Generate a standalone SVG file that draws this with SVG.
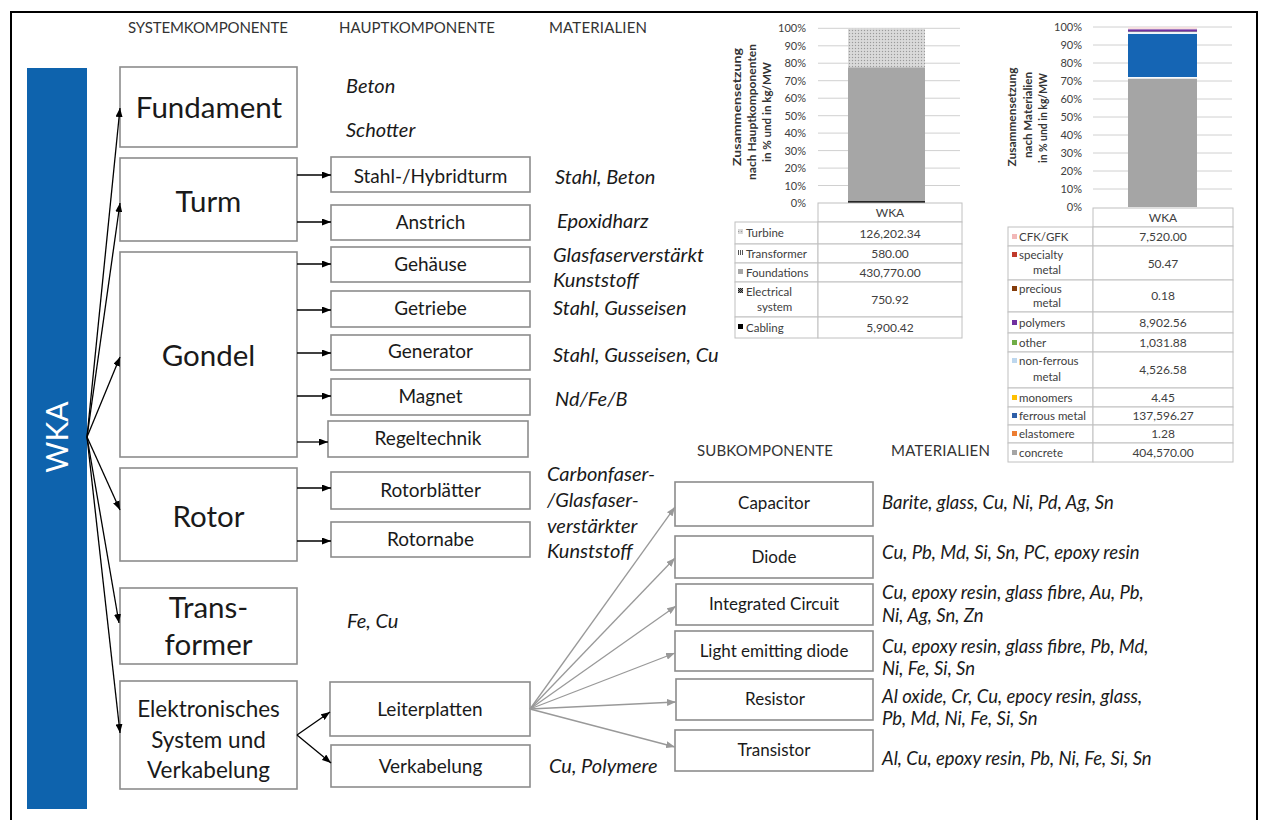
<svg xmlns="http://www.w3.org/2000/svg" width="1266" height="820" viewBox="0 0 1266 820">
<style>
.box{fill:#fff;stroke:#8c8c8c;stroke-width:1.6}
.sys{font-family:Lato,"Liberation Sans",sans-serif;font-size:29.5px;fill:#1a1a1a;text-anchor:middle}
.sys2{font-family:Lato,"Liberation Sans",sans-serif;font-size:22.5px;fill:#1a1a1a;text-anchor:middle}
.hk{font-family:Lato,"Liberation Sans",sans-serif;font-size:19px;fill:#1a1a1a;text-anchor:middle}
.sk{font-family:Lato,"Liberation Sans",sans-serif;font-size:17px;fill:#1a1a1a;text-anchor:middle}
.mat{font-family:Lato,"Liberation Sans",sans-serif;font-size:20px;font-style:italic;fill:#1a1a1a}
.smat{font-family:Lato,"Liberation Sans",sans-serif;font-size:18.5px;font-style:italic;fill:#1a1a1a}
.hdr{font-family:Lato,"Liberation Sans",sans-serif;font-size:15px;fill:#333}
.ax{font-family:Lato,"Liberation Sans",sans-serif;font-size:11px;fill:#404040;text-anchor:end}
.ttl{font-family:Lato,"Liberation Sans",sans-serif;font-size:11.5px;font-weight:bold;fill:#333;text-anchor:middle}
.tl{font-family:Lato,"Liberation Sans",sans-serif;font-size:11.5px;fill:#404040}
.tv{font-family:Lato,"Liberation Sans",sans-serif;font-size:12px;fill:#404040;text-anchor:middle}
.grid{stroke:#d0d0d0;stroke-width:1}
.cell{fill:#fff;stroke:#c0c0c0;stroke-width:1}
.blk{stroke:#000;stroke-width:1.3;fill:none}
.gry{stroke:#999;stroke-width:1.3;fill:none}
</style>
<defs>
<marker id="ab" viewBox="0 0 9 7" refX="9" refY="3.5" markerWidth="9" markerHeight="7" markerUnits="userSpaceOnUse" orient="auto"><path d="M0,0 L9,3.5 L0,7 z" fill="#000"/></marker>
<marker id="ag" viewBox="0 0 9 7" refX="9" refY="3.5" markerWidth="9" markerHeight="7" markerUnits="userSpaceOnUse" orient="auto"><path d="M0,0 L9,3.5 L0,7 z" fill="#999"/></marker>
<pattern id="dots" width="3" height="3" patternUnits="userSpaceOnUse"><rect width="3" height="3" fill="#d4d4d4"/><rect x="0" y="0" width="1" height="1" fill="#9a9a9a"/><rect x="1.5" y="1.5" width="1" height="1" fill="#ececec"/></pattern>
<pattern id="vl" width="2" height="2" patternUnits="userSpaceOnUse"><rect width="2" height="2" fill="#fff"/><rect width="1" height="2" fill="#555"/></pattern>
<pattern id="chk" width="2" height="2" patternUnits="userSpaceOnUse"><rect width="2" height="2" fill="#888"/><rect width="1" height="1" fill="#222"/><rect x="1" y="1" width="1" height="1" fill="#222"/></pattern>
</defs>

<rect x="11" y="12" width="1246" height="830" fill="none" stroke="#000" stroke-width="2"/>

<g id="headers">
<text class="hdr" x="128" y="33" textLength="160">SYSTEMKOMPONENTE</text>
<text class="hdr" x="339" y="33" textLength="156">HAUPTKOMPONENTE</text>
<text class="hdr" x="549" y="33" textLength="98">MATERIALIEN</text>
<text class="hdr" x="697" y="456" textLength="136">SUBKOMPONENTE</text>
<text class="hdr" x="891" y="456" textLength="99">MATERIALIEN</text>
</g>

<g id="wka">
<rect x="27" y="68" width="60" height="741" fill="#0e63ad"/>
<text transform="translate(68,437) rotate(-90)" font-family="Lato,'Liberation Sans',sans-serif" font-size="30" fill="#fff" text-anchor="middle">WKA</text>
</g>

<g id="sys-fundament"><rect class="box" x="120" y="67" width="177" height="80"/><text class="sys" x="209" y="118">Fundament</text></g>
<g id="sys-turm"><rect class="box" x="120" y="158" width="177" height="83"/><text class="sys" x="208.5" y="212">Turm</text></g>
<g id="sys-gondel"><rect class="box" x="120" y="252" width="177" height="205"/><text class="sys" x="208.5" y="366">Gondel</text></g>
<g id="sys-rotor"><rect class="box" x="120" y="468" width="177" height="93"/><text class="sys" x="208.5" y="527">Rotor</text></g>
<g id="sys-transformer"><rect class="box" x="120" y="588" width="177" height="76"/><text class="sys" x="208.5" y="618">Trans-</text><text class="sys" x="208.5" y="655">former</text></g>
<g id="sys-elektronik"><rect class="box" x="120" y="681" width="177" height="108"/><text class="sys2" x="208.5" y="717">Elektronisches</text><text class="sys2" x="208.5" y="748">System und</text><text class="sys2" x="208.5" y="778">Verkabelung</text></g>

<g id="hk-stahlturm"><rect class="box" x="331" y="157" width="199" height="35"/><text class="hk" x="430.5" y="183">Stahl-/Hybridturm</text></g>
<g id="hk-anstrich"><rect class="box" x="331" y="205" width="199" height="35"/><text class="hk" x="430.5" y="229">Anstrich</text></g>
<g id="hk-gehaeuse"><rect class="box" x="331" y="247" width="199" height="35"/><text class="hk" x="430.5" y="271">Gehäuse</text></g>
<g id="hk-getriebe"><rect class="box" x="331" y="291" width="199" height="36"/><text class="hk" x="430.5" y="315">Getriebe</text></g>
<g id="hk-generator"><rect class="box" x="331" y="335" width="199" height="35"/><text class="hk" x="430.5" y="358">Generator</text></g>
<g id="hk-magnet"><rect class="box" x="331" y="379" width="199" height="36"/><text class="hk" x="430.5" y="403">Magnet</text></g>
<g id="hk-regeltechnik"><rect class="box" x="328" y="421" width="200" height="36"/><text class="hk" x="428" y="445">Regeltechnik</text></g>
<g id="hk-rotorblaetter"><rect class="box" x="331" y="472" width="199" height="37"/><text class="hk" x="430.5" y="497">Rotorblätter</text></g>
<g id="hk-rotornabe"><rect class="box" x="331" y="522" width="199" height="35"/><text class="hk" x="430.5" y="546">Rotornabe</text></g>
<g id="hk-leiterplatten"><rect class="box" x="330" y="682" width="200" height="54"/><text class="hk" x="430" y="716">Leiterplatten</text></g>
<g id="hk-verkabelung"><rect class="box" x="331" y="745" width="199" height="42"/><text class="hk" x="430.5" y="773">Verkabelung</text></g>

<g id="sk-capacitor"><rect class="box" x="675" y="482" width="198" height="44"/><text class="sk" x="774" y="509">Capacitor</text></g>
<g id="sk-diode"><rect class="box" x="675" y="536" width="198" height="42"/><text class="sk" x="774" y="563">Diode</text></g>
<g id="sk-ic"><rect class="box" x="676" y="584" width="197" height="41"/><text class="sk" x="774" y="610">Integrated Circuit</text></g>
<g id="sk-led"><rect class="box" x="675" y="631" width="198" height="40"/><text class="sk" x="774" y="657">Light emitting diode</text></g>
<g id="sk-resistor"><rect class="box" x="676" y="679" width="197" height="41"/><text class="sk" x="775" y="705">Resistor</text></g>
<g id="sk-transistor"><rect class="box" x="675" y="730" width="198" height="41"/><text class="sk" x="774" y="756">Transistor</text></g>

<g id="materials">
<text class="mat" x="346" y="93">Beton</text>
<text class="mat" x="346" y="137">Schotter</text>
<text class="mat" x="555" y="184">Stahl, Beton</text>
<text class="mat" x="557" y="228">Epoxidharz</text>
<text class="mat" x="553" y="262">Glasfaserverstärkt</text>
<text class="mat" x="553" y="287">Kunststoff</text>
<text class="mat" x="553" y="315">Stahl, Gusseisen</text>
<text class="mat" x="553" y="362">Stahl, Gusseisen, Cu</text>
<text class="mat" x="555" y="406">Nd/Fe/B</text>
<text class="mat" x="547" y="481">Carbonfaser-</text>
<text class="mat" x="547" y="507">/Glasfaser-</text>
<text class="mat" x="547" y="533">verstärkter</text>
<text class="mat" x="547" y="558">Kunststoff</text>
<text class="mat" x="347" y="628">Fe, Cu</text>
<text class="mat" x="549" y="773">Cu, Polymere</text>
<text class="smat" x="882" y="509">Barite, glass, Cu, Ni, Pd, Ag, Sn</text>
<text class="smat" x="882" y="559">Cu, Pb, Md, Si, Sn, PC, epoxy resin</text>
<text class="smat" x="882" y="599">Cu, epoxy resin, glass fibre, Au, Pb,</text>
<text class="smat" x="882" y="622">Ni, Ag, Sn, Zn</text>
<text class="smat" x="882" y="653">Cu, epoxy resin, glass fibre, Pb, Md,</text>
<text class="smat" x="882" y="675">Ni, Fe, Si, Sn</text>
<text class="smat" x="882" y="703">Al oxide, Cr, Cu, epocy resin, glass,</text>
<text class="smat" x="882" y="725">Pb, Md, Ni, Fe, Si, Sn</text>
<text class="smat" x="882" y="765">Al, Cu, epoxy resin, Pb, Ni, Fe, Si, Sn</text>
</g>

<g id="connectors">
<path class="blk" marker-end="url(#ab)" d="M87,437 L120,108"/>
<path class="blk" marker-end="url(#ab)" d="M87,437 L120,203"/>
<path class="blk" marker-end="url(#ab)" d="M87,437 L120,357"/>
<path class="blk" marker-end="url(#ab)" d="M87,437 L120,510"/>
<path class="blk" marker-end="url(#ab)" d="M87,437 L119,623"/>
<path class="blk" marker-end="url(#ab)" d="M87,437 L120,733"/>
<path class="blk" marker-end="url(#ab)" d="M297,175 H331"/>
<path class="blk" marker-end="url(#ab)" d="M297,222 H331"/>
<path class="blk" marker-end="url(#ab)" d="M297,264 H331"/>
<path class="blk" marker-end="url(#ab)" d="M297,310 H331"/>
<path class="blk" marker-end="url(#ab)" d="M297,353 H331"/>
<path class="blk" marker-end="url(#ab)" d="M297,396 H331"/>
<path class="blk" marker-end="url(#ab)" d="M297,442 H328"/>
<path class="blk" marker-end="url(#ab)" d="M297,488 H331"/>
<path class="blk" marker-end="url(#ab)" d="M297,541 H331"/>
<path class="blk" marker-end="url(#ab)" d="M297,735 L330,712"/>
<path class="blk" marker-end="url(#ab)" d="M297,735 L331,763"/>
<path class="gry" marker-end="url(#ag)" d="M530,709 L675,507"/>
<path class="gry" marker-end="url(#ag)" d="M530,709 L675,558"/>
<path class="gry" marker-end="url(#ag)" d="M530,709 L676,606"/>
<path class="gry" marker-end="url(#ag)" d="M530,709 L675,653"/>
<path class="gry" marker-end="url(#ag)" d="M530,709 L676,702"/>
<path class="gry" marker-end="url(#ag)" d="M530,709 L675,747"/>
</g>

<g id="chart-hauptkomponenten">
<g class="grid">
<line x1="818" y1="28.3" x2="960" y2="28.3"/><line x1="818" y1="45.8" x2="960" y2="45.8"/><line x1="818" y1="63.2" x2="960" y2="63.2"/><line x1="818" y1="80.7" x2="960" y2="80.7"/><line x1="818" y1="98.2" x2="960" y2="98.2"/><line x1="818" y1="115.7" x2="960" y2="115.7"/><line x1="818" y1="133.1" x2="960" y2="133.1"/><line x1="818" y1="150.6" x2="960" y2="150.6"/><line x1="818" y1="168.1" x2="960" y2="168.1"/><line x1="818" y1="185.5" x2="960" y2="185.5"/>
</g>
<rect x="848" y="28.3" width="77" height="39.1" fill="url(#dots)"/>
<rect x="848" y="67.4" width="77" height="0.2" fill="#777"/>
<rect x="848" y="67.6" width="77" height="133.3" fill="#a6a6a6"/>
<rect x="848" y="200.9" width="77" height="0.4" fill="#444"/>
<rect x="848" y="201.2" width="77" height="1.8" fill="#000"/>
<g class="ax">
<text x="806" y="32">100%</text><text x="806" y="49.5">90%</text><text x="806" y="67">80%</text><text x="806" y="84.5">70%</text><text x="806" y="102">60%</text><text x="806" y="119.5">50%</text><text x="806" y="137">40%</text><text x="806" y="154.5">30%</text><text x="806" y="172">20%</text><text x="806" y="189.5">10%</text><text x="806" y="207">0%</text>
</g>
<text class="ttl" transform="translate(741,107) rotate(-90)" textLength="118" lengthAdjust="spacingAndGlyphs">Zusammensetzung</text>
<text class="ttl" transform="translate(756,112) rotate(-90)" textLength="136" lengthAdjust="spacingAndGlyphs">nach Hauptkomponenten</text>
<text class="ttl" transform="translate(771,112) rotate(-90)" textLength="100" lengthAdjust="spacingAndGlyphs">in % und in kg/MW</text>
<rect class="cell" x="818" y="203" width="144" height="19"/>
<text class="tv" x="890" y="217">WKA</text>
<rect class="cell" x="735" y="222" width="83" height="22"/><rect class="cell" x="818" y="222" width="144" height="22"/>
<rect class="cell" x="735" y="244" width="83" height="19"/><rect class="cell" x="818" y="244" width="144" height="19"/>
<rect class="cell" x="735" y="263" width="83" height="19"/><rect class="cell" x="818" y="263" width="144" height="19"/>
<rect class="cell" x="735" y="282" width="83" height="35"/><rect class="cell" x="818" y="282" width="144" height="35"/>
<rect class="cell" x="735" y="317" width="83" height="21"/><rect class="cell" x="818" y="317" width="144" height="21"/>
<rect x="738" y="229" width="5" height="5" fill="url(#dots)"/>
<rect x="738" y="250" width="5" height="5" fill="url(#vl)"/>
<rect x="738" y="269" width="5" height="5" fill="#a6a6a6"/>
<rect x="738" y="288" width="5" height="5" fill="url(#chk)"/>
<rect x="738" y="324" width="5" height="5" fill="#000"/>
<text class="tl" x="746" y="237">Turbine</text>
<text class="tl" x="746" y="258">Transformer</text>
<text class="tl" x="746" y="277">Foundations</text>
<text class="tl" x="746" y="296">Electrical</text>
<text class="tl" x="757" y="311">system</text>
<text class="tl" x="746" y="332">Cabling</text>
<text class="tv" x="890" y="238">126,202.34</text>
<text class="tv" x="890" y="258">580.00</text>
<text class="tv" x="890" y="277">430,770.00</text>
<text class="tv" x="890" y="304">750.92</text>
<text class="tv" x="890" y="332">5,900.42</text>
</g>

<g id="chart-materialien">
<g class="grid">
<line x1="1093" y1="27" x2="1232" y2="27"/><line x1="1093" y1="45" x2="1232" y2="45"/><line x1="1093" y1="63" x2="1232" y2="63"/><line x1="1093" y1="81" x2="1232" y2="81"/><line x1="1093" y1="99" x2="1232" y2="99"/><line x1="1093" y1="117" x2="1232" y2="117"/><line x1="1093" y1="135" x2="1232" y2="135"/><line x1="1093" y1="153" x2="1232" y2="153"/><line x1="1093" y1="171" x2="1232" y2="171"/><line x1="1093" y1="189" x2="1232" y2="189"/>
</g>
<rect x="1128" y="27" width="69" height="2.4" fill="#f6e0e0"/>
<rect x="1128" y="29.4" width="69" height="2.4" fill="#7030a0"/>
<rect x="1128" y="31.8" width="69" height="0.4" fill="#70ad47"/>
<rect x="1128" y="32.2" width="69" height="1.8" fill="#eef4fa"/>
<rect x="1128" y="34" width="69" height="43.2" fill="#1565b4"/>
<rect x="1128" y="77.2" width="69" height="1.5" fill="#fff"/>
<rect x="1128" y="78.7" width="69" height="128.3" fill="#a5a5a5"/>
<g class="ax">
<text x="1082" y="31">100%</text><text x="1082" y="49">90%</text><text x="1082" y="67">80%</text><text x="1082" y="85">70%</text><text x="1082" y="103">60%</text><text x="1082" y="121">50%</text><text x="1082" y="139">40%</text><text x="1082" y="157">30%</text><text x="1082" y="175">20%</text><text x="1082" y="193">10%</text><text x="1082" y="211">0%</text>
</g>
<text class="ttl" transform="translate(1016,117) rotate(-90)" textLength="99" lengthAdjust="spacingAndGlyphs">Zusammensetzung</text>
<text class="ttl" transform="translate(1032,115) rotate(-90)" textLength="86" lengthAdjust="spacingAndGlyphs">nach Materialien</text>
<text class="ttl" transform="translate(1047,118) rotate(-90)" textLength="90" lengthAdjust="spacingAndGlyphs">in % und in kg/MW</text>
<rect class="cell" x="1093" y="208" width="140" height="19"/>
<text class="tv" x="1163" y="222">WKA</text>
<g>
<rect class="cell" x="1008" y="227" width="85" height="19"/><rect class="cell" x="1093" y="227" width="140" height="19"/>
<rect class="cell" x="1008" y="246" width="85" height="34"/><rect class="cell" x="1093" y="246" width="140" height="34"/>
<rect class="cell" x="1008" y="280" width="85" height="32"/><rect class="cell" x="1093" y="280" width="140" height="32"/>
<rect class="cell" x="1008" y="312" width="85" height="21"/><rect class="cell" x="1093" y="312" width="140" height="21"/>
<rect class="cell" x="1008" y="333" width="85" height="19"/><rect class="cell" x="1093" y="333" width="140" height="19"/>
<rect class="cell" x="1008" y="352" width="85" height="36"/><rect class="cell" x="1093" y="352" width="140" height="36"/>
<rect class="cell" x="1008" y="388" width="85" height="19"/><rect class="cell" x="1093" y="388" width="140" height="19"/>
<rect class="cell" x="1008" y="407" width="85" height="18"/><rect class="cell" x="1093" y="407" width="140" height="18"/>
<rect class="cell" x="1008" y="425" width="85" height="18"/><rect class="cell" x="1093" y="425" width="140" height="18"/>
<rect class="cell" x="1008" y="443" width="85" height="19"/><rect class="cell" x="1093" y="443" width="140" height="19"/>
</g>
<rect x="1012" y="234" width="5" height="5" fill="#f2b8b8"/>
<rect x="1012" y="252" width="5" height="5" fill="#c0392b"/>
<rect x="1012" y="286" width="5" height="5" fill="#843c0c"/>
<rect x="1012" y="320" width="5" height="5" fill="#7030a0"/>
<rect x="1012" y="340" width="5" height="5" fill="#70ad47"/>
<rect x="1012" y="358" width="5" height="5" fill="#bdd7ee"/>
<rect x="1012" y="395" width="5" height="5" fill="#ffc000"/>
<rect x="1012" y="413" width="5" height="5" fill="#2e5fa8"/>
<rect x="1012" y="431" width="5" height="5" fill="#ed7d31"/>
<rect x="1012" y="450" width="5" height="5" fill="#a5a5a5"/>
<text class="tl" x="1019" y="241">CFK/GFK</text>
<text class="tl" x="1019" y="259">specialty</text>
<text class="tl" x="1033" y="274">metal</text>
<text class="tl" x="1019" y="293">precious</text>
<text class="tl" x="1033" y="307">metal</text>
<text class="tl" x="1019" y="327">polymers</text>
<text class="tl" x="1019" y="347">other</text>
<text class="tl" x="1019" y="365">non-ferrous</text>
<text class="tl" x="1033" y="381">metal</text>
<text class="tl" x="1019" y="402">monomers</text>
<text class="tl" x="1019" y="420">ferrous metal</text>
<text class="tl" x="1019" y="438">elastomere</text>
<text class="tl" x="1019" y="457">concrete</text>
<text class="tv" x="1163" y="241">7,520.00</text>
<text class="tv" x="1163" y="268">50.47</text>
<text class="tv" x="1163" y="300">0.18</text>
<text class="tv" x="1163" y="327">8,902.56</text>
<text class="tv" x="1163" y="347">1,031.88</text>
<text class="tv" x="1163" y="374">4,526.58</text>
<text class="tv" x="1163" y="402">4.45</text>
<text class="tv" x="1163" y="420">137,596.27</text>
<text class="tv" x="1163" y="438">1.28</text>
<text class="tv" x="1163" y="457">404,570.00</text>
</g>
</svg>
